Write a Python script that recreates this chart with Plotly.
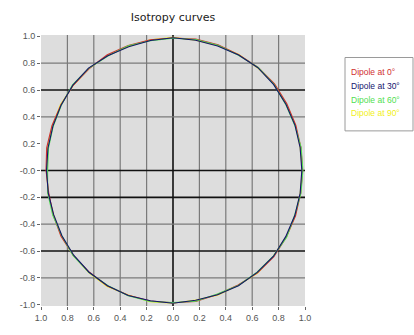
import plotly.graph_objects as go
import numpy as np

# Angle of each sample on the curve (degrees)
angles_deg = [0, 10, 20, 30, 40, 50, 60, 70, 80, 90, 100, 110,
              120, 130, 140, 150, 160, 170, 180, 190, 200, 210, 220, 230,
              240, 250, 260, 270, 280, 290, 300, 310, 320, 330, 340, 350]

# Normalised response radius for each dipole orientation
r_dipole_0 = [0.982, 0.984, 0.990, 0.996, 1.004, 1.004, 0.996, 0.998, 0.994, 0.988, 0.990, 0.992,
              0.996, 0.990, 0.988, 0.980, 0.976, 0.972, 0.962, 0.956, 0.966, 0.980, 0.986, 0.988,
              0.994, 0.990, 0.988, 0.986, 0.992, 0.984, 0.986, 0.996, 0.998, 0.992, 0.988, 0.982]
r_dipole_30 = [0.976, 0.978, 0.984, 0.988, 0.996, 1.000, 0.994, 0.988, 0.986, 0.990, 0.984, 0.982,
               0.988, 0.996, 0.990, 0.978, 0.968, 0.962, 0.958, 0.960, 0.962, 0.972, 0.982, 0.990,
               0.992, 0.992, 0.986, 0.990, 0.982, 0.986, 0.992, 0.992, 0.994, 0.986, 0.982, 0.978]
r_dipole_60 = [0.984, 0.986, 0.982, 0.986, 0.998, 1.004, 0.992, 0.994, 0.992, 0.986, 0.982, 0.990,
               0.986, 0.994, 0.994, 0.976, 0.966, 0.958, 0.950, 0.964, 0.970, 0.972, 0.988, 0.992,
               0.990, 0.994, 0.992, 0.984, 0.990, 0.980, 0.990, 0.990, 0.992, 0.994, 0.980, 0.984]
r_dipole_90 = [0.980, 0.978, 0.988, 0.992, 1.002, 0.998, 0.998, 0.992, 0.986, 0.992, 0.990, 0.984,
               0.992, 0.992, 0.986, 0.984, 0.974, 0.966, 0.956, 0.962, 0.962, 0.978, 0.984, 0.994,
               0.998, 0.988, 0.994, 0.990, 0.980, 0.990, 0.988, 0.998, 0.992, 0.990, 0.986, 0.978]

series_names = ["Dipole at 0°", "Dipole at 30°", "Dipole at 60°", "Dipole at 90°"]
series_colors = ["#d03030", "#14146e", "#50e050", "#f2f020"]
series_radii = [r_dipole_0, r_dipole_30, r_dipole_60, r_dipole_90]

# Axis ticks
tick_vals = [-1.0, -0.8, -0.6, -0.4, -0.2, 0.0, 0.2, 0.4, 0.6, 0.8, 1.0]
x_tick_text = ["1.0", "0.8", "0.6", "0.4", "0.2", "0.0", "0.2", "0.4", "0.6", "0.8", "1.0"]
y_tick_text = ["-1.0", "-0.8", "-0.6", "-0.4", "-0.2", "-0.0", "0.2", "0.4", "0.6", "0.8", "1.0"]

# Grid lines: light and heavy
x_grid_light = [-0.8, -0.6, -0.4, -0.2, 0.2, 0.4, 0.6, 0.8]
x_grid_heavy = [0.0]
y_grid_light = [0.8, 0.4, -0.4, -0.8]
y_grid_heavy = [0.6, 0.0, -0.2, -0.6]

fig = go.Figure()

theta = np.radians(angles_deg + [angles_deg[0]])
draw_order = [3, 0, 2, 1]
for i in draw_order:
    r = np.array(series_radii[i] + [series_radii[i][0]])
    fig.add_trace(go.Scatter(
        x=r * np.cos(theta), y=r * np.sin(theta),
        mode="lines", name=series_names[i],
        line=dict(color=series_colors[i], width=1.1),
        showlegend=False, hoverinfo="skip",
    ))

shapes = []
for v in x_grid_light:
    shapes.append(dict(type="line", xref="x", yref="paper", x0=v, x1=v, y0=0, y1=1,
                       line=dict(color="#7a7a7a", width=1.2), layer="below"))
for v in x_grid_heavy:
    shapes.append(dict(type="line", xref="x", yref="paper", x0=v, x1=v, y0=0, y1=1,
                       line=dict(color="#111111", width=1.6), layer="below"))
for v in y_grid_light:
    shapes.append(dict(type="line", xref="paper", yref="y", x0=0, x1=1, y0=v, y1=v,
                       line=dict(color="#7a7a7a", width=1.2), layer="below"))
for v in y_grid_heavy:
    shapes.append(dict(type="line", xref="paper", yref="y", x0=0, x1=1, y0=v, y1=v,
                       line=dict(color="#111111", width=1.6), layer="below"))

# Legend box to the right of the plot
plot_l, plot_r, plot_t, plot_b = 41, 305, 35, 312
def px_x(p):
    return (p - plot_l) / (plot_r - plot_l)
def px_y(p):
    return (plot_b - p) / (plot_b - plot_t)

shapes.append(dict(type="rect", xref="paper", yref="paper",
                   x0=px_x(345), x1=px_x(413), y0=px_y(133), y1=px_y(58),
                   line=dict(color="#9a9a9a", width=1), fillcolor="white"))

annotations = []
for k, (name, col) in enumerate(zip(series_names, series_colors)):
    annotations.append(dict(
        xref="paper", yref="paper", x=px_x(349), y=px_y(73 + 14 * k),
        text=name, showarrow=False, xanchor="left", yanchor="middle",
        font=dict(family="Liberation Sans, Arial, sans-serif", size=8.5, color=col),
    ))

fig.update_layout(
    width=414, height=335,
    margin=dict(l=plot_l, r=414 - plot_r, t=plot_t, b=335 - plot_b),
    paper_bgcolor="white", plot_bgcolor="#dddddd",
    title=dict(text="Isotropy curves", x=0.5, xref="paper", xanchor="center",
               y=1 - 17 / 335, yanchor="middle",
               font=dict(family="DejaVu Sans, sans-serif", size=11, color="#222")),
    shapes=shapes, annotations=annotations,
    showlegend=False,
)
fig.update_xaxes(range=[-1, 1], tickvals=tick_vals, ticktext=x_tick_text,
                 showgrid=False, zeroline=False, ticks="outside", ticklen=3,
                 tickcolor="#666", fixedrange=True,
                 tickfont=dict(family="Liberation Sans, Arial, sans-serif", size=9, color="#555"))
fig.update_yaxes(range=[-1.01, 1.01], tickvals=tick_vals, ticktext=y_tick_text,
                 showgrid=False, zeroline=False, ticks="outside", ticklen=3,
                 tickcolor="#666", fixedrange=True,
                 tickfont=dict(family="Liberation Sans, Arial, sans-serif", size=9, color="#555"))

fig.write_html("out.html")
